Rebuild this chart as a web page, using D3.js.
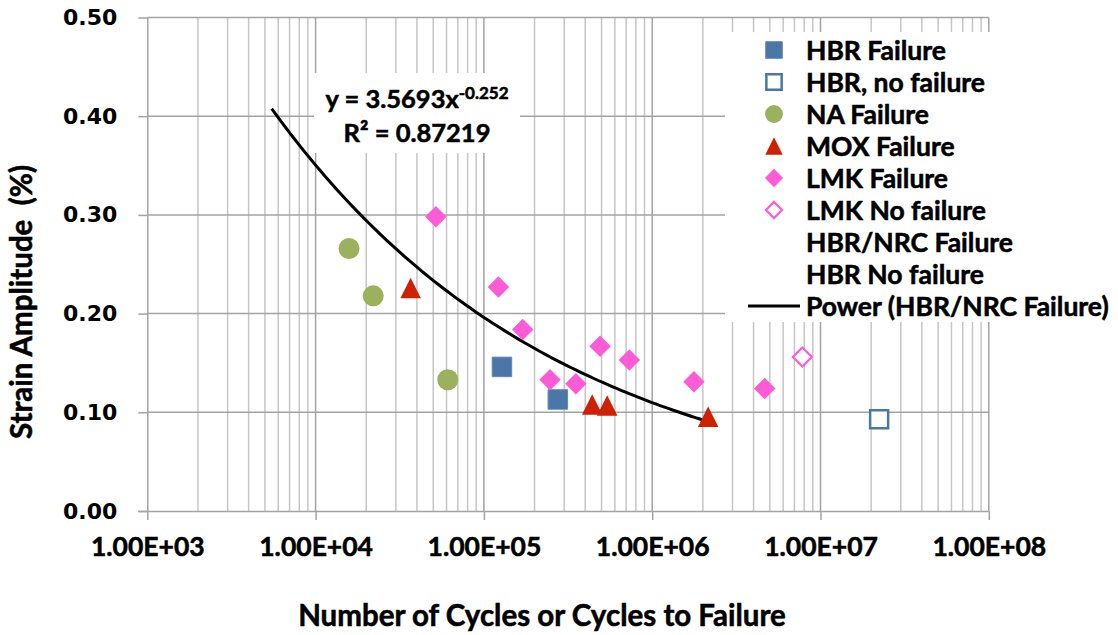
<!DOCTYPE html>
<html><head><meta charset="utf-8">
<script src="https://cdn.jsdelivr.net/npm/d3@7/dist/d3.min.js"></script>
<style>
html,body{margin:0;padding:0;background:#fff;}
svg{display:block;}
.lbl{font-family:Lato,"Open Sans",sans-serif;font-weight:700;fill:#000;stroke:#000;stroke-width:0.55px;white-space:pre;}
.ytk{font-family:"DejaVu Sans",Verdana,sans-serif;font-weight:700;fill:#000;}
</style></head><body>
<svg id="chart" width="1118" height="635"></svg>
<script>
// Cycles (N) and strain amplitude (%) for each test series
const hbrFailCycles   = [1.28e5, 2.75e5];
const hbrFailStrain   = [0.146, 0.113];
const hbrNoFailCycles = [2.23e7];
const hbrNoFailStrain = [0.093];
const naFailCycles    = [1.58e4, 2.20e4, 6.1e4];
const naFailStrain    = [0.266, 0.218, 0.133];
const moxFailCycles   = [3.67e4, 4.4e5, 5.4e5, 2.15e6];
const moxFailStrain   = [0.226, 0.108, 0.107, 0.0955];
const lmkFailCycles   = [5.18e4, 1.22e5, 1.70e5, 2.47e5, 3.52e5, 4.90e5, 7.31e5, 1.77e6, 4.66e6];
const lmkFailStrain   = [0.298, 0.227, 0.184, 0.133, 0.129, 0.167, 0.153, 0.131, 0.124];
const lmkNoFailCycles = [7.8e6];
const lmkNoFailStrain = [0.156];

// Power-law fit of the HBR/NRC failure data: y = a * x^b
const fitCoef = 3.5693;
const fitExp = -0.252;
const fitR2 = "0.87219";
const fitCycleRange = [5.48e3, 2.3e6];

const xTickValues = [1e3, 1e4, 1e5, 1e6, 1e7, 1e8];
const xTickLabels = ["1.00E+03", "1.00E+04", "1.00E+05", "1.00E+06", "1.00E+07", "1.00E+08"];
const yTickValues = [0, 0.1, 0.2, 0.3, 0.4, 0.5];
const yTickLabels = ["0.00", "0.10", "0.20", "0.30", "0.40", "0.50"];

const legendLabels = ["HBR Failure", "HBR, no failure", "NA Failure", "MOX Failure",
  "LMK Failure", "LMK No failure", "HBR/NRC Failure", "HBR No failure", "Power (HBR/NRC Failure)"];

const BLUE = "#4a76a8", GREEN = "#9bb15d", RED = "#cf2000", PINK = "#fe5bd6";

// marker shapes, centred on 0,0
function shapePath(kind, s) {
  const h = s / 2;
  if (kind === "square") return `M${-h},${-h}H${h}V${h}H${-h}Z`;
  if (kind === "diamond") return `M0,${-h}L${h},0L0,${h}L${-h},0Z`;
  if (kind === "triangle") return `M0,${-h}L${h},${h}L${-h},${h}Z`;
  if (kind === "circle") return `M${h},0A${h},${h} 0 1 1 ${-h},0A${h},${h} 0 1 1 ${h},0Z`;
  return "";
}

const series = [
  {label: legendLabels[0], xs: hbrFailCycles, ys: hbrFailStrain, shape: "square", size: 19.5, fill: BLUE, stroke: "#5c88b8", sw: 1},
  {label: legendLabels[1], xs: hbrNoFailCycles, ys: hbrNoFailStrain, shape: "square", size: 18, fill: "#fff", stroke: BLUE, sw: 2.5},
  {label: legendLabels[2], xs: naFailCycles, ys: naFailStrain, shape: "circle", size: 21, fill: GREEN, stroke: "none", sw: 0},
  {label: legendLabels[3], xs: moxFailCycles, ys: moxFailStrain, shape: "triangle", size: 20.5, fill: RED, stroke: "none", sw: 0},
  {label: legendLabels[4], xs: lmkFailCycles, ys: lmkFailStrain, shape: "diamond", size: 21.5, fill: PINK, stroke: "none", sw: 0},
  {label: legendLabels[5], xs: lmkNoFailCycles, ys: lmkNoFailStrain, shape: "diamond", size: 19, fill: "#fff", stroke: PINK, sw: 2.2}
];

const svg = d3.select("#chart");
const x = d3.scaleLog().domain([1e3, 1e8]).range([147.3, 988.8]);
const y = d3.scaleLinear().domain([0, 0.5]).range([511, 17.5]);

const MAJOR = "#a3a3a3", MINOR = "#c6c6c6";

// vertical gridlines: minor (2..9 per decade) then decades
const minorX = [];
for (let d = 3; d < 8; d++) for (let m = 2; m <= 9; m++) minorX.push(m * Math.pow(10, d));
const grid = svg.append("g");
grid.selectAll("line.mx").data(minorX).join("line")
  .attr("x1", d => x(d)).attr("x2", d => x(d))
  .attr("y1", y(0.5)).attr("y2", y(0))
  .attr("stroke", MINOR).attr("stroke-width", 1.5);
grid.selectAll("line.Mx").data(xTickValues.slice(1)).join("line")
  .attr("x1", d => x(d)).attr("x2", d => x(d))
  .attr("y1", y(0.5)).attr("y2", y(0))
  .attr("stroke", MAJOR).attr("stroke-width", 1.5);
grid.selectAll("line.gy").data(yTickValues.slice(1)).join("line")
  .attr("x1", x(1e3)).attr("x2", x(1e8))
  .attr("y1", d => y(d)).attr("y2", d => y(d))
  .attr("stroke", MAJOR).attr("stroke-width", 1.5);

// axes
const xAxis = d3.axisBottom(x).tickValues(xTickValues).tickSize(9)
  .tickFormat((d, i) => xTickLabels[i]).tickPadding(17);
const gx = svg.append("g").attr("transform", `translate(0,${y(0)})`).call(xAxis);
gx.select(".domain").attr("stroke", MAJOR).attr("stroke-width", 1.5)
  .attr("d", `M${x(1e3) - 9},0.5H${x(1e8)}`);
gx.selectAll(".tick line").attr("stroke", MAJOR).attr("stroke-width", 1.5);
gx.selectAll(".tick text").attr("class", "lbl").attr("font-size", 26.5);

const yAxis = d3.axisLeft(y).tickValues(yTickValues).tickSize(9)
  .tickFormat((d, i) => yTickLabels[i]).tickPadding(21);
const gy = svg.append("g").attr("transform", `translate(${x(1e3)},0)`).call(yAxis);
gy.select(".domain").attr("stroke", MAJOR).attr("stroke-width", 1.5)
  .attr("d", `M0.5,${y(0.5)}V${y(0)}`);
gy.selectAll(".tick line").attr("stroke", MAJOR).attr("stroke-width", 1.5);
gy.selectAll(".tick text").attr("class", "ytk").attr("font-size", 22);
svg.selectAll("g").attr("font-family", null).attr("font-size", null);

// axis titles
svg.append("text").attr("class", "lbl").attr("font-size", 29.5)
  .attr("x", 542).attr("y", 626).attr("text-anchor", "middle")
  .text("Number of Cycles or Cycles to Failure");
svg.append("text").attr("class", "lbl").attr("font-size", 29.5)
  .attr("transform", "translate(32,302) rotate(-90)").attr("text-anchor", "middle")
  .text("Strain Amplitude\u00a0\u00a0(%)");

// power-law trendline
const fitPts = d3.range(0, 101).map(i => {
  const lx = Math.log10(fitCycleRange[0]) + i / 100 * (Math.log10(fitCycleRange[1]) - Math.log10(fitCycleRange[0]));
  const n = Math.pow(10, lx);
  return [n, fitCoef * Math.pow(n, fitExp)];
});
svg.append("path").datum(fitPts)
  .attr("d", d3.line().x(d => x(d[0])).y(d => y(d[1])))
  .attr("fill", "none").attr("stroke", "#000").attr("stroke-width", 3);

// data markers
series.forEach(s => {
  svg.append("g").selectAll("path").data(s.xs.map((n, i) => [n, s.ys[i]])).join("path")
    .attr("transform", d => `translate(${x(d[0])},${y(d[1])})`)
    .attr("d", shapePath(s.shape, s.size))
    .attr("fill", s.fill).attr("stroke", s.stroke).attr("stroke-width", s.sw);
});

// trendline equation box
const eq = svg.append("g");
eq.append("rect").attr("x", 314).attr("y", 73).attr("width", 206).attr("height", 80).attr("fill", "#fff");
const eqLine = eq.append("text").attr("class", "lbl").attr("font-size", 25.5)
  .attr("x", 417).attr("y", 108).attr("text-anchor", "middle");
eqLine.append("tspan").text(`y = ${fitCoef}x`);
eqLine.append("tspan").attr("dy", -9).attr("font-size", 17).text(String(fitExp));
eq.append("text").attr("class", "lbl").attr("font-size", 25.5)
  .attr("x", 417).attr("y", 141.5).attr("text-anchor", "middle")
  .text(`R² = ${fitR2}`);

// legend
const lg = svg.append("g");
lg.append("rect").attr("x", 725).attr("y", 32).attr("width", 393).attr("height", 290).attr("fill", "#fff");
const rowY = i => 50 + i * 32;
legendLabels.forEach((lab, i) => {
  const s = series[i];
  if (s) {
    lg.append("path").attr("transform", `translate(774,${rowY(i)})`)
      .attr("d", shapePath(s.shape, s.size * 0.85))
      .attr("fill", s.fill).attr("stroke", s.stroke).attr("stroke-width", s.sw);
  }
  if (i === legendLabels.length - 1) {
    lg.append("line").attr("x1", 748).attr("x2", 800).attr("y1", rowY(i)).attr("y2", rowY(i))
      .attr("stroke", "#000").attr("stroke-width", 3);
  }
  lg.append("text").attr("class", "lbl").attr("font-size", 26.5)
    .attr("x", 806).attr("y", rowY(i)).attr("dy", "0.36em").text(lab);
});
</script>
</body></html>
